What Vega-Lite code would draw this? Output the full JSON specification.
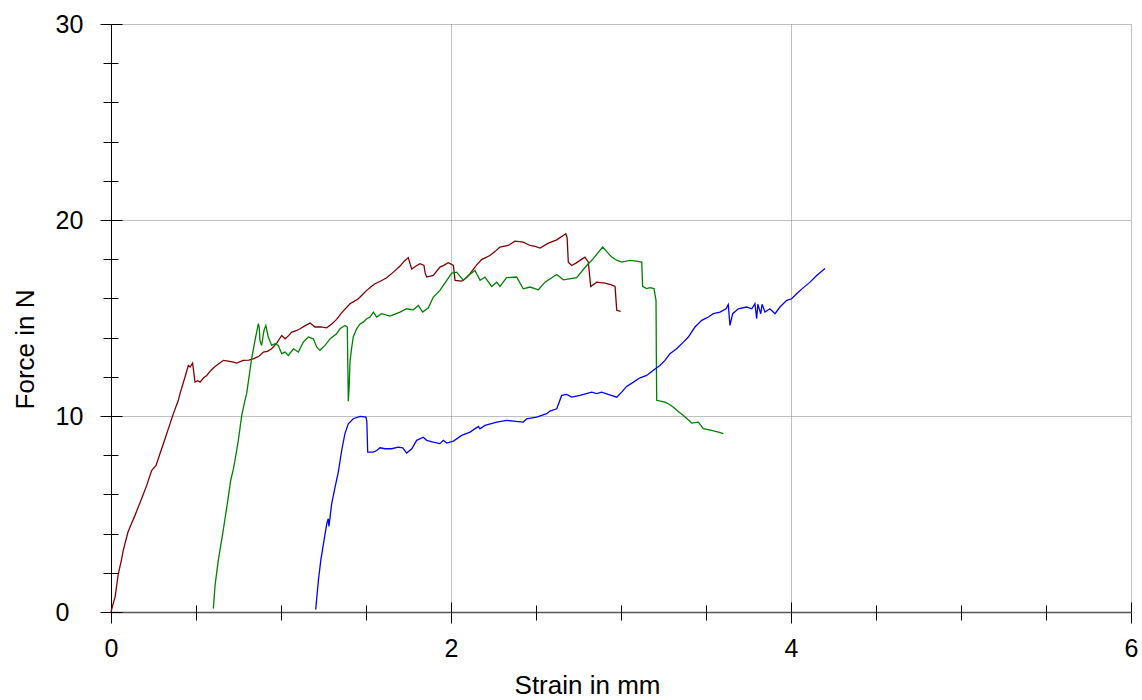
{
  "$schema": "https://vega.github.io/schema/vega-lite/v6.json",
  "width": 1020,
  "height": 588,
  "autosize": {"type": "none"},
  "padding": {"left": 111, "top": 24, "right": 11, "bottom": 88},
  "background": "white",
  "config": {"view": {"stroke": null}},
  "datasets": {
    "curves": [
      {"s":"r","x":0,"y":0},{"s":"r","x":0.012,"y":0.4},{"s":"r","x":0.024,"y":0.76},{"s":"r","x":0.043,"y":1.95},{"s":"r","x":0.06,"y":2.6},{"s":"r","x":0.072,"y":3.14},{"s":"r","x":0.1,"y":4.08},{"s":"r","x":0.12,"y":4.5},{"s":"r","x":0.141,"y":4.93},{"s":"r","x":0.18,"y":5.78},{"s":"r","x":0.21,"y":6.46},{"s":"r","x":0.239,"y":7.22},{"s":"r","x":0.265,"y":7.48},{"s":"r","x":0.288,"y":8.07},{"s":"r","x":0.318,"y":8.84},{"s":"r","x":0.347,"y":9.6},{"s":"r","x":0.367,"y":10.12},{"s":"r","x":0.396,"y":10.8},{"s":"r","x":0.406,"y":11.14},{"s":"r","x":0.435,"y":11.98},{"s":"r","x":0.455,"y":12.58},{"s":"r","x":0.465,"y":12.5},{"s":"r","x":0.48,"y":12.7},{"s":"r","x":0.486,"y":12.3},{"s":"r","x":0.494,"y":11.73},{"s":"r","x":0.51,"y":11.8},{"s":"r","x":0.524,"y":11.73},{"s":"r","x":0.545,"y":11.95},{"s":"r","x":0.563,"y":12.07},{"s":"r","x":0.59,"y":12.35},{"s":"r","x":0.612,"y":12.53},{"s":"r","x":0.64,"y":12.7},{"s":"r","x":0.661,"y":12.84},{"s":"r","x":0.69,"y":12.8},{"s":"r","x":0.72,"y":12.75},{"s":"r","x":0.739,"y":12.7},{"s":"r","x":0.778,"y":12.84},{"s":"r","x":0.81,"y":12.85},{"s":"r","x":0.837,"y":12.92},{"s":"r","x":0.87,"y":13.05},{"s":"r","x":0.896,"y":13.26},{"s":"r","x":0.92,"y":13.3},{"s":"r","x":0.945,"y":13.43},{"s":"r","x":0.975,"y":13.72},{"s":"r","x":1.004,"y":14.11},{"s":"r","x":1.024,"y":13.94},{"s":"r","x":1.045,"y":14.1},{"s":"r","x":1.063,"y":14.28},{"s":"r","x":1.09,"y":14.35},{"s":"r","x":1.112,"y":14.45},{"s":"r","x":1.14,"y":14.6},{"s":"r","x":1.171,"y":14.74},{"s":"r","x":1.2,"y":14.54},{"s":"r","x":1.235,"y":14.55},{"s":"r","x":1.269,"y":14.5},{"s":"r","x":1.3,"y":14.7},{"s":"r","x":1.327,"y":14.93},{"s":"r","x":1.36,"y":15.3},{"s":"r","x":1.406,"y":15.73},{"s":"r","x":1.43,"y":15.85},{"s":"r","x":1.455,"y":15.98},{"s":"r","x":1.48,"y":16.2},{"s":"r","x":1.504,"y":16.41},{"s":"r","x":1.53,"y":16.6},{"s":"r","x":1.553,"y":16.75},{"s":"r","x":1.59,"y":16.9},{"s":"r","x":1.622,"y":17.05},{"s":"r","x":1.661,"y":17.34},{"s":"r","x":1.7,"y":17.65},{"s":"r","x":1.725,"y":17.9},{"s":"r","x":1.749,"y":18.08},{"s":"r","x":1.758,"y":17.8},{"s":"r","x":1.769,"y":17.5},{"s":"r","x":1.795,"y":17.65},{"s":"r","x":1.818,"y":17.77},{"s":"r","x":1.841,"y":17.68},{"s":"r","x":1.848,"y":17.3},{"s":"r","x":1.857,"y":17.09},{"s":"r","x":1.896,"y":17.17},{"s":"r","x":1.935,"y":17.6},{"s":"r","x":1.96,"y":17.7},{"s":"r","x":1.984,"y":17.82},{"s":"r","x":2.014,"y":17.68},{"s":"r","x":2.02,"y":17.2},{"s":"r","x":2.024,"y":16.92},{"s":"r","x":2.063,"y":16.88},{"s":"r","x":2.09,"y":17.05},{"s":"r","x":2.112,"y":17.26},{"s":"r","x":2.15,"y":17.7},{"s":"r","x":2.18,"y":17.98},{"s":"r","x":2.229,"y":18.19},{"s":"r","x":2.26,"y":18.4},{"s":"r","x":2.288,"y":18.62},{"s":"r","x":2.337,"y":18.7},{"s":"r","x":2.376,"y":18.92},{"s":"r","x":2.425,"y":18.87},{"s":"r","x":2.465,"y":18.7},{"s":"r","x":2.495,"y":18.65},{"s":"r","x":2.524,"y":18.57},{"s":"r","x":2.573,"y":18.82},{"s":"r","x":2.622,"y":18.99},{"s":"r","x":2.65,"y":19.15},{"s":"r","x":2.675,"y":19.3},{"s":"r","x":2.683,"y":19.1},{"s":"r","x":2.69,"y":17.85},{"s":"r","x":2.71,"y":17.68},{"s":"r","x":2.735,"y":17.8},{"s":"r","x":2.759,"y":17.94},{"s":"r","x":2.788,"y":18.1},{"s":"r","x":2.808,"y":17.85},{"s":"r","x":2.815,"y":17.2},{"s":"r","x":2.822,"y":16.61},{"s":"r","x":2.857,"y":16.83},{"s":"r","x":2.88,"y":16.8},{"s":"r","x":2.906,"y":16.78},{"s":"r","x":2.94,"y":16.7},{"s":"r","x":2.965,"y":16.61},{"s":"r","x":2.97,"y":16.0},{"s":"r","x":2.975,"y":15.39},{"s":"r","x":2.998,"y":15.34},
      {"s":"g","x":0.602,"y":0.17},{"s":"g","x":0.612,"y":1.36},{"s":"g","x":0.631,"y":2.63},{"s":"g","x":0.657,"y":4.0},{"s":"g","x":0.675,"y":5.0},{"s":"g","x":0.69,"y":5.86},{"s":"g","x":0.704,"y":6.71},{"s":"g","x":0.72,"y":7.3},{"s":"g","x":0.729,"y":7.73},{"s":"g","x":0.749,"y":8.76},{"s":"g","x":0.769,"y":10.03},{"s":"g","x":0.788,"y":10.8},{"s":"g","x":0.798,"y":11.14},{"s":"g","x":0.827,"y":12.92},{"s":"g","x":0.847,"y":13.86},{"s":"g","x":0.867,"y":14.71},{"s":"g","x":0.872,"y":14.5},{"s":"g","x":0.876,"y":13.86},{"s":"g","x":0.886,"y":13.6},{"s":"g","x":0.9,"y":14.37},{"s":"g","x":0.911,"y":14.62},{"s":"g","x":0.925,"y":14.03},{"s":"g","x":0.945,"y":13.6},{"s":"g","x":0.965,"y":13.69},{"s":"g","x":0.984,"y":13.6},{"s":"g","x":1.004,"y":13.18},{"s":"g","x":1.024,"y":13.26},{"s":"g","x":1.043,"y":13.09},{"s":"g","x":1.073,"y":13.43},{"s":"g","x":1.102,"y":13.26},{"s":"g","x":1.131,"y":13.77},{"s":"g","x":1.161,"y":14.03},{"s":"g","x":1.19,"y":13.94},{"s":"g","x":1.21,"y":13.52},{"s":"g","x":1.229,"y":13.35},{"s":"g","x":1.259,"y":13.6},{"s":"g","x":1.288,"y":13.93},{"s":"g","x":1.327,"y":14.2},{"s":"g","x":1.347,"y":14.45},{"s":"g","x":1.376,"y":14.62},{"s":"g","x":1.39,"y":14.54},{"s":"g","x":1.393,"y":12.5},{"s":"g","x":1.396,"y":10.75},{"s":"g","x":1.401,"y":11.5},{"s":"g","x":1.406,"y":12.8},{"s":"g","x":1.416,"y":13.5},{"s":"g","x":1.425,"y":14.03},{"s":"g","x":1.445,"y":14.45},{"s":"g","x":1.465,"y":14.7},{"s":"g","x":1.484,"y":14.79},{"s":"g","x":1.504,"y":14.96},{"s":"g","x":1.524,"y":15.05},{"s":"g","x":1.543,"y":15.3},{"s":"g","x":1.563,"y":15.05},{"s":"g","x":1.592,"y":15.22},{"s":"g","x":1.641,"y":15.1},{"s":"g","x":1.67,"y":15.2},{"s":"g","x":1.7,"y":15.3},{"s":"g","x":1.739,"y":15.47},{"s":"g","x":1.778,"y":15.42},{"s":"g","x":1.808,"y":15.64},{"s":"g","x":1.833,"y":15.3},{"s":"g","x":1.867,"y":15.52},{"s":"g","x":1.896,"y":16.07},{"s":"g","x":1.935,"y":16.41},{"s":"g","x":1.975,"y":16.92},{"s":"g","x":2.004,"y":17.29},{"s":"g","x":2.033,"y":17.34},{"s":"g","x":2.073,"y":16.92},{"s":"g","x":2.102,"y":17.17},{"s":"g","x":2.141,"y":17.43},{"s":"g","x":2.171,"y":16.92},{"s":"g","x":2.2,"y":17.09},{"s":"g","x":2.239,"y":16.61},{"s":"g","x":2.269,"y":16.83},{"s":"g","x":2.288,"y":16.61},{"s":"g","x":2.327,"y":17.06},{"s":"g","x":2.386,"y":17.09},{"s":"g","x":2.425,"y":16.49},{"s":"g","x":2.465,"y":16.58},{"s":"g","x":2.514,"y":16.44},{"s":"g","x":2.553,"y":16.83},{"s":"g","x":2.622,"y":17.22},{"s":"g","x":2.661,"y":16.95},{"s":"g","x":2.739,"y":17.06},{"s":"g","x":2.798,"y":17.68},{"s":"g","x":2.837,"y":18.03},{"s":"g","x":2.892,"y":18.62},{"s":"g","x":2.92,"y":18.35},{"s":"g","x":2.945,"y":18.11},{"s":"g","x":2.975,"y":17.95},{"s":"g","x":3.004,"y":17.85},{"s":"g","x":3.053,"y":17.94},{"s":"g","x":3.09,"y":17.9},{"s":"g","x":3.122,"y":17.85},{"s":"g","x":3.127,"y":16.61},{"s":"g","x":3.15,"y":16.5},{"s":"g","x":3.171,"y":16.55},{"s":"g","x":3.194,"y":16.5},{"s":"g","x":3.206,"y":15.9},{"s":"g","x":3.208,"y":13.0},{"s":"g","x":3.21,"y":10.8},{"s":"g","x":3.259,"y":10.71},{"s":"g","x":3.283,"y":10.6},{"s":"g","x":3.308,"y":10.45},{"s":"g","x":3.34,"y":10.2},{"s":"g","x":3.367,"y":10.03},{"s":"g","x":3.39,"y":9.85},{"s":"g","x":3.416,"y":9.64},{"s":"g","x":3.455,"y":9.69},{"s":"g","x":3.484,"y":9.35},{"s":"g","x":3.533,"y":9.27},{"s":"g","x":3.573,"y":9.18},{"s":"g","x":3.602,"y":9.1},
      {"s":"b","x":1.204,"y":0.12},{"s":"b","x":1.22,"y":1.61},{"s":"b","x":1.234,"y":2.63},{"s":"b","x":1.253,"y":3.65},{"s":"b","x":1.269,"y":4.5},{"s":"b","x":1.278,"y":4.76},{"s":"b","x":1.282,"y":4.37},{"s":"b","x":1.298,"y":5.52},{"s":"b","x":1.318,"y":6.37},{"s":"b","x":1.337,"y":7.14},{"s":"b","x":1.357,"y":8.24},{"s":"b","x":1.376,"y":9.1},{"s":"b","x":1.396,"y":9.6},{"s":"b","x":1.425,"y":9.86},{"s":"b","x":1.465,"y":9.98},{"s":"b","x":1.5,"y":9.94},{"s":"b","x":1.505,"y":9.7},{"s":"b","x":1.51,"y":8.16},{"s":"b","x":1.543,"y":8.16},{"s":"b","x":1.563,"y":8.24},{"s":"b","x":1.582,"y":8.38},{"s":"b","x":1.612,"y":8.33},{"s":"b","x":1.651,"y":8.33},{"s":"b","x":1.69,"y":8.41},{"s":"b","x":1.716,"y":8.38},{"s":"b","x":1.739,"y":8.11},{"s":"b","x":1.769,"y":8.33},{"s":"b","x":1.798,"y":8.76},{"s":"b","x":1.837,"y":8.92},{"s":"b","x":1.857,"y":8.76},{"s":"b","x":1.896,"y":8.67},{"s":"b","x":1.935,"y":8.59},{"s":"b","x":1.955,"y":8.76},{"s":"b","x":1.975,"y":8.62},{"s":"b","x":2.014,"y":8.72},{"s":"b","x":2.063,"y":9.01},{"s":"b","x":2.112,"y":9.18},{"s":"b","x":2.161,"y":9.47},{"s":"b","x":2.17,"y":9.35},{"s":"b","x":2.2,"y":9.52},{"s":"b","x":2.269,"y":9.69},{"s":"b","x":2.327,"y":9.78},{"s":"b","x":2.367,"y":9.74},{"s":"b","x":2.425,"y":9.69},{"s":"b","x":2.445,"y":9.86},{"s":"b","x":2.504,"y":9.94},{"s":"b","x":2.563,"y":10.12},{"s":"b","x":2.582,"y":10.25},{"s":"b","x":2.622,"y":10.37},{"s":"b","x":2.651,"y":11.05},{"s":"b","x":2.68,"y":11.1},{"s":"b","x":2.71,"y":10.96},{"s":"b","x":2.759,"y":11.05},{"s":"b","x":2.827,"y":11.22},{"s":"b","x":2.857,"y":11.14},{"s":"b","x":2.886,"y":11.22},{"s":"b","x":2.925,"y":11.1},{"s":"b","x":2.975,"y":10.96},{"s":"b","x":3.004,"y":11.22},{"s":"b","x":3.033,"y":11.51},{"s":"b","x":3.073,"y":11.73},{"s":"b","x":3.112,"y":11.95},{"s":"b","x":3.151,"y":12.07},{"s":"b","x":3.19,"y":12.33},{"s":"b","x":3.229,"y":12.58},{"s":"b","x":3.259,"y":12.84},{"s":"b","x":3.288,"y":13.18},{"s":"b","x":3.327,"y":13.43},{"s":"b","x":3.367,"y":13.77},{"s":"b","x":3.396,"y":14.03},{"s":"b","x":3.435,"y":14.54},{"s":"b","x":3.475,"y":14.88},{"s":"b","x":3.514,"y":15.05},{"s":"b","x":3.543,"y":15.22},{"s":"b","x":3.582,"y":15.3},{"s":"b","x":3.618,"y":15.47},{"s":"b","x":3.631,"y":15.69},{"s":"b","x":3.641,"y":14.62},{"s":"b","x":3.657,"y":15.22},{"s":"b","x":3.69,"y":15.47},{"s":"b","x":3.739,"y":15.56},{"s":"b","x":3.769,"y":15.47},{"s":"b","x":3.788,"y":15.73},{"s":"b","x":3.798,"y":14.96},{"s":"b","x":3.805,"y":15.7},{"s":"b","x":3.822,"y":15.22},{"s":"b","x":3.83,"y":15.7},{"s":"b","x":3.847,"y":15.3},{"s":"b","x":3.876,"y":15.47},{"s":"b","x":3.906,"y":15.22},{"s":"b","x":3.935,"y":15.56},{"s":"b","x":3.975,"y":15.9},{"s":"b","x":4.004,"y":15.98},{"s":"b","x":4.033,"y":16.24},{"s":"b","x":4.073,"y":16.55},{"s":"b","x":4.112,"y":16.83},{"s":"b","x":4.151,"y":17.17},{"s":"b","x":4.2,"y":17.52}
    ]
  },
  "data": {"name": "curves"},
  "layer": [
    {
      "mark": {"type": "line", "strokeWidth": 1.3},
      "encoding": {
        "x": {"field": "x", "type": "quantitative", "scale": {"domain": [0, 6], "nice": false, "zero": false},
          "axis": {"orient": "bottom", "values": [0, 2, 4, 6], "format": "d", "tickSize": 11, "tickColor": "black", "tickWidth": 1,
            "domain": true, "domainColor": "#555555", "domainWidth": 1.5,
            "grid": true, "gridColor": "#808080", "gridDash": [1, 1], "gridWidth": 1,
            "labelFont": "Liberation Sans", "labelFontSize": 25, "labelColor": "black", "labelPadding": 13, "labelBaseline": "top", "labelFlush": false,
            "title": "Strain in mm", "titleFont": "Liberation Sans", "titleFontSize": 26, "titleFontWeight": "normal", "titleColor": "black",
            "titleX": 476, "titleY": 81, "titleAlign": "center", "titleBaseline": "alphabetic"}},
        "y": {"field": "y", "type": "quantitative", "scale": {"domain": [0, 30], "nice": false, "zero": false},
          "axis": {"orient": "left", "values": [0, 10, 20, 30], "format": "d", "tickSize": 11, "tickColor": "black", "tickWidth": 1,
            "domain": true, "domainColor": "black", "domainWidth": 1,
            "grid": true, "gridColor": "#808080", "gridDash": [1, 1], "gridWidth": 1,
            "labelFont": "Liberation Sans", "labelFontSize": 25, "labelColor": "black", "labelPadding": 45, "labelAlign": "left", "labelBaseline": "middle", "labelFlush": false,
            "title": "Force in N", "titleFont": "Liberation Sans", "titleFontSize": 26, "titleFontWeight": "normal", "titleColor": "black",
            "titleX": -78, "titleY": 325, "titleAlign": "center", "titleBaseline": "alphabetic", "titleAngle": 270}},
        "color": {"field": "s", "type": "nominal", "legend": null, "scale": {"domain": ["r", "g", "b"], "range": ["#800000", "#008000", "#0000ff"]}}
      }
    },
    {
      "mark": {"type": "line", "opacity": 0},
      "encoding": {
        "x": {"field": "x", "type": "quantitative", "axis": {"orient": "bottom", "values": [0, 2, 4, 6], "tickSize": -10, "tickColor": "black", "labels": false, "domain": false, "grid": false, "title": null}},
        "y": {"field": "y", "type": "quantitative", "axis": {"orient": "left", "values": [0, 10, 20, 30], "tickSize": -11, "tickColor": "black", "labels": false, "domain": false, "grid": false, "title": null}},
        "detail": {"field": "s"}
      }
    },
    {
      "mark": {"type": "line", "opacity": 0},
      "encoding": {
        "x": {"field": "x", "type": "quantitative", "axis": {"orient": "bottom", "values": [0.5, 1, 1.5, 2.5, 3, 3.5, 4.5, 5, 5.5], "tickSize": 8, "tickColor": "black", "labels": false, "domain": false, "grid": false, "title": null}},
        "y": {"field": "y", "type": "quantitative", "axis": {"orient": "left", "values": [2, 4, 6, 8, 12, 14, 16, 18, 22, 24, 26, 28], "tickSize": 8, "tickColor": "black", "labels": false, "domain": false, "grid": false, "title": null}},
        "detail": {"field": "s"}
      }
    },
    {
      "mark": {"type": "line", "opacity": 0},
      "encoding": {
        "x": {"field": "x", "type": "quantitative", "axis": {"orient": "bottom", "values": [0.5, 1, 1.5, 2.5, 3, 3.5, 4.5, 5, 5.5], "tickSize": -7, "tickColor": "black", "labels": false, "domain": false, "grid": false, "title": null}},
        "y": {"field": "y", "type": "quantitative", "axis": {"orient": "left", "values": [2, 4, 6, 8, 12, 14, 16, 18, 22, 24, 26, 28], "tickSize": -7, "tickColor": "black", "labels": false, "domain": false, "grid": false, "title": null}},
        "detail": {"field": "s"}
      }
    }
  ],
  "resolve": {"axis": {"x": "independent", "y": "independent"}}
}
